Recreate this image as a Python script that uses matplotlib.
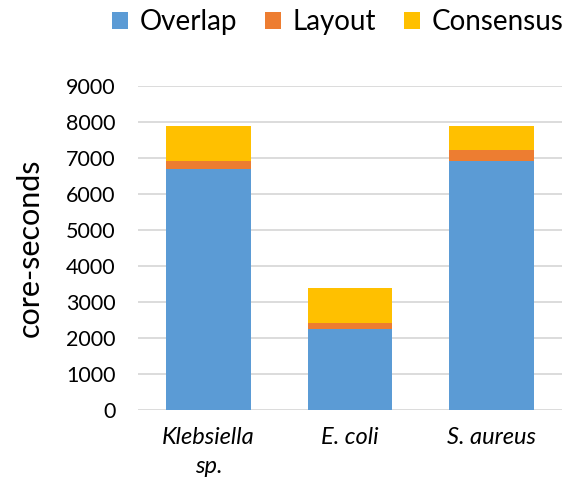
import numpy as np
import matplotlib.pyplot as plt

# genomes and time spent in each assembly stage (core-seconds)
genomes = ['Klebsiella\nsp.', 'E. coli', 'S. aureus']
overlap = [6700, 2250, 6920]
layout = [220, 160, 300]
consensus = [960, 970, 660]

COLORS = {'Overlap': '#5B9BD5', 'Layout': '#ED7D31', 'Consensus': '#FFC000'}

plt.rcParams['font.family'] = ['Lato', 'DejaVu Sans']

fig = plt.figure(figsize=(5.71, 4.96), dpi=100)
ax = fig.add_axes([0.2417, 0.1734, 0.7423, 0.6538])

x = np.arange(len(genomes))
w = 0.6
bottom = np.zeros(len(genomes))
for name, vals in [('Overlap', overlap), ('Layout', layout),
                   ('Consensus', consensus)]:
    ax.bar(x, vals, w, bottom=bottom, color=COLORS[name], label=name,
           zorder=3)
    bottom += np.array(vals)

ax.set_xlim(-0.5, len(genomes) - 0.5)
ax.set_ylim(0, 9000)
ax.set_yticks(np.arange(0, 9001, 1000))
ax.yaxis.grid(True, color='#D9D9D9', lw=1.3, zorder=0)
for s in ax.spines.values():
    s.set_visible(False)
ax.tick_params(axis='y', length=0, labelsize=15.5, pad=16)
ax.tick_params(axis='x', length=0, pad=12)
ax.set_xticks(x)
ax.set_xticklabels(genomes, fontstyle='italic', fontsize=17, linespacing=1.5)
ax.set_ylabel('core-seconds', fontsize=22, labelpad=16)

fig.legend(loc='center', bbox_to_anchor=(0.591, 0.955), ncol=3, frameon=False,
           fontsize=20, handlelength=0.6, handleheight=0.6,
           handletextpad=0.4, columnspacing=1.0)

fig.savefig('out.png', dpi=100)
